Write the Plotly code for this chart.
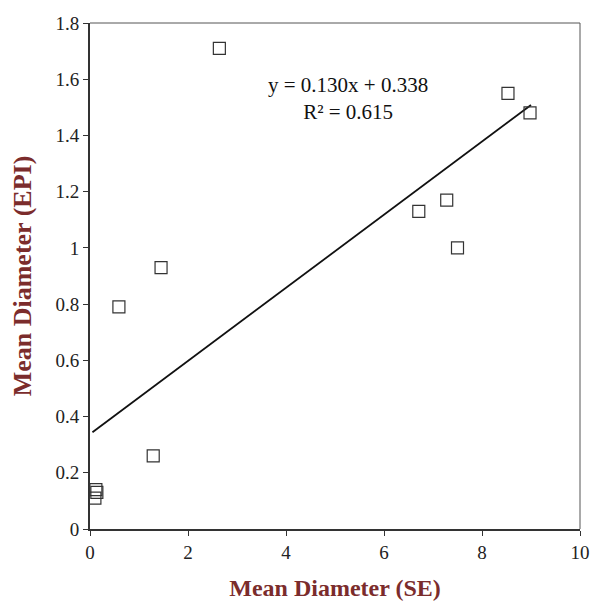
import plotly.graph_objects as go

se = [2.64, 8.53, 8.98, 6.71, 7.28, 7.50, 1.45, 0.59, 1.29, 0.12, 0.10, 0.14]
epi = [1.71, 1.55, 1.48, 1.13, 1.17, 1.00, 0.93, 0.79, 0.26, 0.14, 0.11, 0.13]
slope = 0.130
intercept = 0.338
fit_x = [0.05, 9.0]
fit_y = [slope * v + intercept for v in fit_x]

serif = "Liberation Serif, Times New Roman, serif"
red = "#7b2c2c"

fig = go.Figure()
fig.add_trace(go.Scatter(x=fit_x, y=fit_y, mode="lines",
                         line=dict(color="#111", width=1.8), showlegend=False))
fig.add_trace(go.Scatter(x=se, y=epi, mode="markers",
                         marker=dict(symbol="square-open", size=12,
                                     color="#333", line=dict(width=1.2)),
                         showlegend=False))
fig.add_annotation(x=5.27, y=1.53, xref="x", yref="y",
                   text="y = 0.130x + 0.338<br>R² = 0.615", showarrow=False,
                   font=dict(family=serif, size=21, color="#111"), align="center")

fig.update_layout(
    width=591, height=601,
    margin=dict(l=90, r=11, t=23, b=72, autoexpand=False),
    paper_bgcolor="white", plot_bgcolor="white",
    font=dict(family=serif, size=19, color="#222"),
    xaxis=dict(range=[0, 10], dtick=2, showgrid=False, zeroline=False,
               showline=True, linecolor="#333", linewidth=2, mirror=False,
               ticks="outside", ticklen=5, tickcolor="#333",
               automargin=False,
               title=dict(text="<b>Mean Diameter (SE)</b>",
                          font=dict(family=serif, size=24, color=red), standoff=18)),
    yaxis=dict(range=[0, 1.8], dtick=0.2, showgrid=False, zeroline=False,
               showline=True, linecolor="#333", linewidth=2,
               ticks="outside", ticklen=5, tickcolor="#333",
               tickformat="~g", automargin=False,
               title=dict(text="<b>Mean Diameter (EPI)</b>",
                          font=dict(family=serif, size=26, color=red), standoff=16)),
    shapes=[
        dict(type="line", xref="paper", yref="paper", x0=0, x1=1, y0=1, y1=1,
             line=dict(color="#555", width=1)),
        dict(type="line", xref="paper", yref="paper", x0=1, x1=1, y0=0, y1=1,
             line=dict(color="#555", width=1)),
    ],
)
fig.write_html("out.html", config={"displayModeBar": False},
               post_script="document.body.style.margin='0';document.body.style.overflow='hidden';")
